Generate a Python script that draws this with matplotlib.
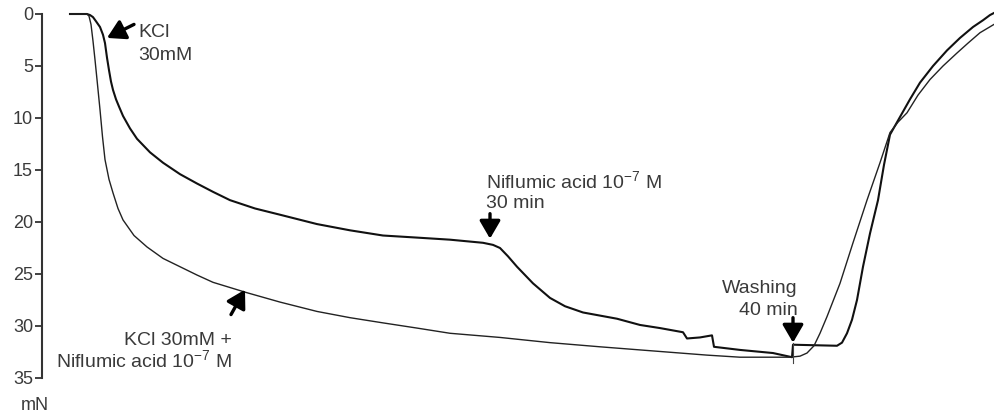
import matplotlib.pyplot as plt

plt.rcParams['font.family'] = ['Liberation Sans', 'DejaVu Sans']
plt.rcParams['mathtext.fontset'] = 'custom'
plt.rcParams['mathtext.rm'] = 'Liberation Sans'
plt.rcParams['mathtext.it'] = 'Liberation Sans:italic'

# time axis is arbitrary (recording position), force in mN
kcl_t = [70, 87, 90, 93, 96, 100, 103, 105, 107, 109, 111, 113, 116, 119, 123, 130, 137, 150,
         163, 180, 197, 213, 230, 255, 280, 317, 350, 383, 417, 450, 483, 493, 500, 508, 517,
         533, 550, 565, 583, 600, 617, 640, 660, 683, 687, 700, 712, 714, 740, 773, 792,
         793, 837, 842, 847, 852, 857, 863, 870, 878, 884, 890, 900, 910, 920, 933, 947,
         960, 973, 983, 990, 994]
kcl_f = [0.0, 0.0, 0.1, 0.3, 0.7, 1.25, 2.0, 2.8, 4.2, 5.4, 6.5, 7.3, 8.2, 8.9, 9.8, 11.0, 12.0, 13.3,
         14.3, 15.4, 16.3, 17.1, 17.9, 18.7, 19.3, 20.2, 20.8, 21.3, 21.5, 21.7, 22.0, 22.2, 22.5, 23.3, 24.3,
         25.9, 27.3, 28.1, 28.7, 29.0, 29.3, 29.9, 30.2, 30.6, 31.2, 31.1, 30.9, 32.0, 32.3, 32.6, 33.0,
         31.8, 31.9, 31.6, 30.7, 29.4, 27.5, 24.3, 21.1, 17.9, 14.5, 11.6, 9.9, 8.2, 6.6, 5.0, 3.5,
         2.3, 1.25, 0.6, 0.1, -0.1]

nfa_t = [70, 87, 89, 91, 93, 95, 97, 100, 102.5, 105, 109, 113, 118, 123, 134, 147, 163,
         180, 197, 213, 230, 247, 280, 317, 350, 383, 417, 450, 500, 550, 600, 640, 707, 740,
         790, 800, 807, 814, 820, 827, 840, 853, 867, 880, 890, 898, 907, 918, 930, 943,
         957, 968, 980, 994]
nfa_f = [0.0, 0.0, 0.2, 1.0, 2.6, 4.4, 6.3, 9.2, 11.8, 14.0, 15.9, 17.2, 18.7, 19.8, 21.3, 22.4, 23.5,
         24.3, 25.1, 25.8, 26.3, 26.8, 27.7, 28.6, 29.2, 29.7, 30.2, 30.7, 31.1, 31.6, 32.0, 32.3, 32.8, 33.0,
         33.0, 32.9, 32.6, 31.9, 30.7, 29.1, 25.9, 22.0, 17.9, 14.3, 11.4, 10.4, 9.5, 7.8, 6.3, 5.0,
         3.75, 2.8, 1.8, 1.0]

washing_t = 793
yticks = [0, 5, 10, 15, 20, 25, 30, 35]

fig = plt.figure(figsize=(9.94, 4.18), dpi=100)
ax = fig.add_axes([42 / 994, 40 / 418, 952 / 994, 364 / 418])

ax.plot(kcl_t, kcl_f, color='#111111', lw=1.5, clip_on=False)
ax.plot(nfa_t, nfa_f, color='#222222', lw=1.0, clip_on=False)
ax.plot([washing_t, washing_t], [31.6, 33.6], color='#444444', lw=0.8)

ax.set_xlim(42, 994)
ax.set_ylim(35, 0)
ax.set_yticks(yticks)
ax.set_yticklabels([str(v) for v in yticks])
ax.tick_params(axis='y', direction='out', length=5, width=1.3, pad=1.5,
               labelsize=13, labelcolor='#3a3a3a', color='#333333')
ax.set_xticks([])
for s in ['top', 'right', 'bottom']:
    ax.spines[s].set_visible(False)
ax.spines['left'].set_linewidth(1.5)
ax.spines['left'].set_color('#333333')
ax.patch.set_alpha(0)

ax.text(-0.008, -0.075, 'mN', transform=ax.transAxes, ha='center', va='center',
        fontsize=13, color='#3a3a3a')

arrow = dict(arrowstyle='-|>,head_length=0.6,head_width=0.35', lw=2.4,
             color='black', mutation_scale=18, shrinkA=0, shrinkB=0)
txt = dict(fontsize=14, color='#3a3a3a')

# KCl 30mM
ax.annotate('', xy=(107, 2.3), xytext=(134, 1.0), arrowprops=arrow)
ax.text(138, 2.2, 'KCl', va='baseline', **txt)
ax.text(138, 4.4, '30mM', va='baseline', **txt)

# KCl + niflumic acid
ax.annotate('', xy=(245, 26.5), xytext=(231, 28.9), arrowprops=arrow)
ax.text(232, 31.8, 'KCl 30mM +', ha='right', va='baseline', **txt)
ax.text(232, 34.0, 'Niflumic acid 10$^{-7}$ M', ha='right', va='baseline', **txt)

# niflumic acid added
ax.annotate('', xy=(490, 21.6), xytext=(490, 19.2), arrowprops=arrow)
ax.text(486, 16.7, 'Niflumic acid 10$^{-7}$ M', va='baseline', **txt)
ax.text(486, 18.7, '30 min', va='baseline', **txt)

# washing
ax.annotate('', xy=(793, 31.6), xytext=(793, 29.2), arrowprops=arrow)
ax.text(798, 26.8, 'Washing', ha='right', va='baseline', **txt)
ax.text(798, 28.9, '40 min', ha='right', va='baseline', **txt)

fig.savefig('out.png', dpi=100)
